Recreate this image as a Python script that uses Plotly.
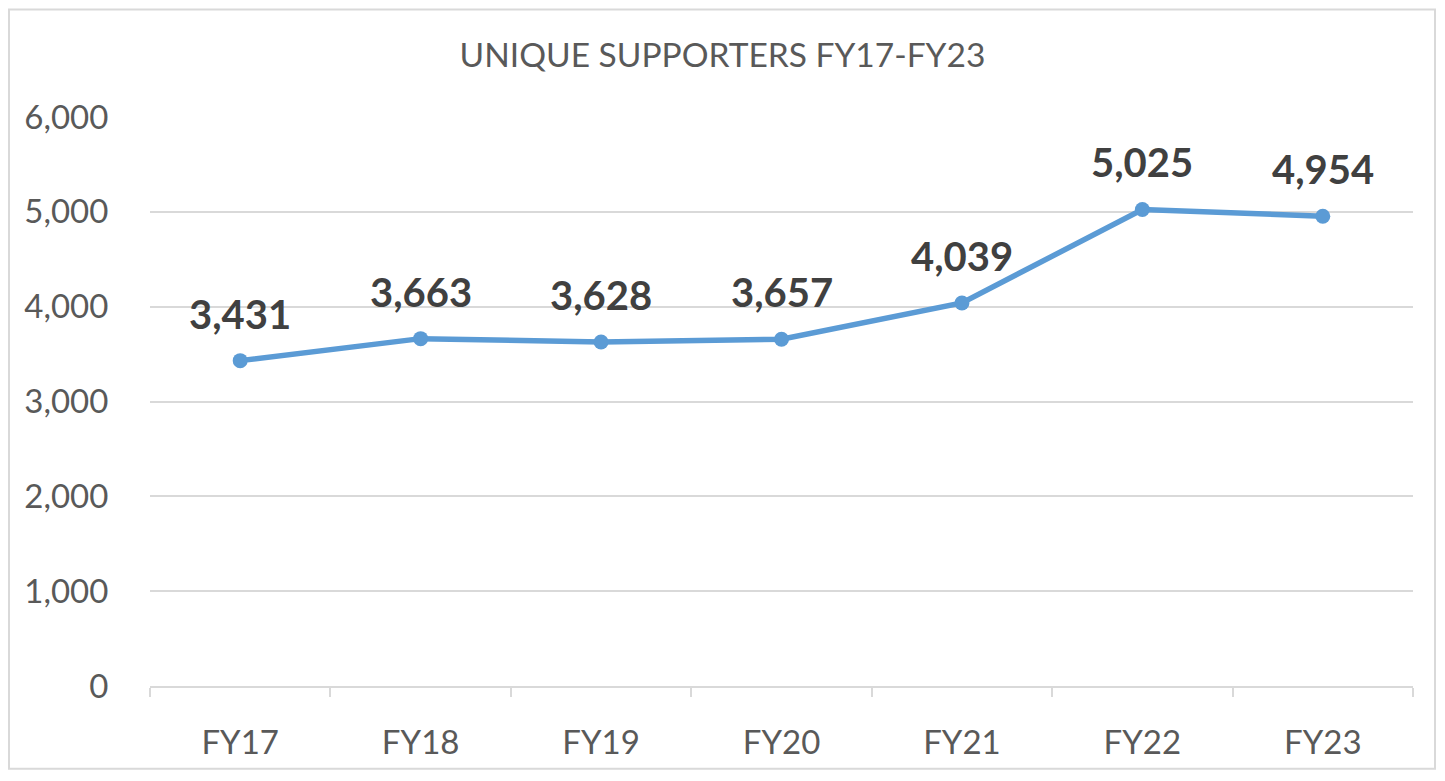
import plotly.graph_objects as go

categories = ["FY17", "FY18", "FY19", "FY20", "FY21", "FY22", "FY23"]
supporters = [3431, 3663, 3628, 3657, 4039, 5025, 4954]
y_ticks = [0, 1000, 2000, 3000, 4000, 5000, 6000]
title_text = "UNIQUE SUPPORTERS FY17-FY23"

# page body has an 8px margin; size figure to fit the 1445x781 window
W, H = 1429, 765
ml, mr, mt, mb = 142, 24, 109, 85
pw, ph = W - ml - mr, H - mt - mb

FONT = "Lato, Carlito, Calibri, sans-serif"
grid = "#d9d9d9"

fig = go.Figure()
fig.add_trace(go.Scatter(
    x=categories, y=supporters, mode="lines+markers",
    line=dict(color="#5b9bd5", width=5.5),
    marker=dict(color="#5b9bd5", size=15),
    hoverinfo="x+y", showlegend=False,
))

for c, v in zip(categories, supporters):
    fig.add_annotation(x=c, y=v, text=f"<b>{v:,}</b>", showarrow=False,
                       yshift=47, font=dict(family=FONT, size=40, color="#404040"))

# outer border
bx0 = (1 - ml) / pw
bx1 = (W - 2 - ml) / pw
by0 = -(mb - 2) / ph
by1 = 1 + (mt - 1) / ph
fig.add_shape(type="rect", xref="paper", yref="paper", x0=bx0, x1=bx1, y0=by0, y1=by1,
              line=dict(color=grid, width=2), layer="below")

fig.update_layout(
    width=W, height=H,
    margin=dict(l=ml, r=mr, t=mt, b=mb),
    paper_bgcolor="white", plot_bgcolor="white",
    title=dict(text=title_text, x=0.5, xanchor="center", y=1 - 47 / H, yanchor="middle",
               font=dict(family=FONT, size=33.5, color="#595959")),
    font=dict(family=FONT, color="#595959"),
)
fig.update_xaxes(
    type="category", tickson="boundaries", ticks="outside", ticklen=9, tickcolor=grid, tickwidth=2,
    showline=True, linecolor=grid, linewidth=2, showgrid=False, zeroline=False,
    tickfont=dict(family=FONT, size=33, color="#595959"), ticklabelstandoff=26,
    range=[-0.5, len(categories) - 0.5],
)
fig.update_yaxes(
    range=[0, 6000], tickvals=y_ticks, ticktext=[f"{t:,}" for t in y_ticks],
    showgrid=True, gridcolor=grid, gridwidth=2, zeroline=False, showline=False,
    ticks="outside", ticklen=34, tickcolor="rgba(0,0,0,0)",
    tickfont=dict(family=FONT, size=33, color="#595959"),
)

fig.write_html("out.html")
